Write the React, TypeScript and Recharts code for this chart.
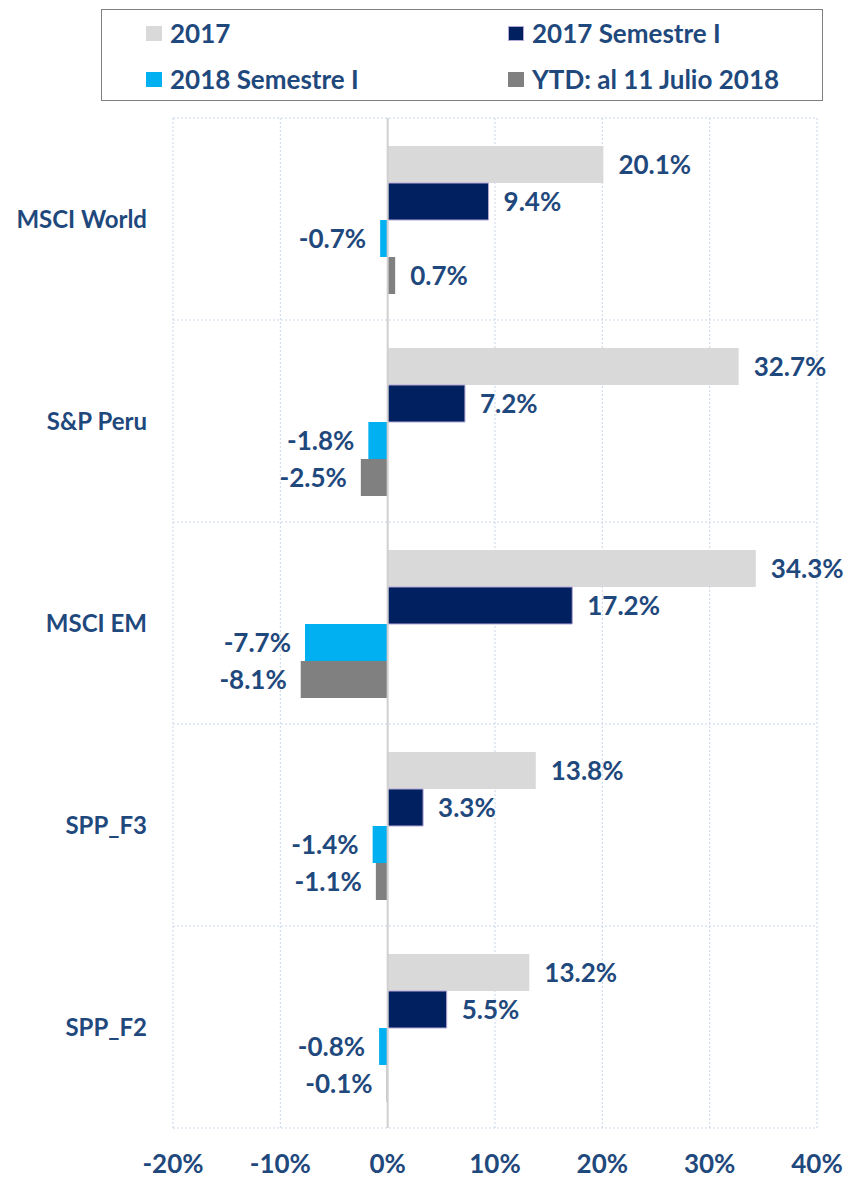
import React from 'react';
import {
  BarChart,
  Bar,
  XAxis,
  YAxis,
  CartesianGrid,
  ReferenceLine,
  LabelList,
} from 'recharts';

const categories = ['MSCI World', 'S&P Peru', 'MSCI EM', 'SPP_F3', 'SPP_F2'];
const anual2017 = [20.1, 32.7, 34.3, 13.8, 13.2];
const sem2017 = [9.4, 7.2, 17.2, 3.3, 5.5];
const sem2018 = [-0.7, -1.8, -7.7, -1.4, -0.8];
const ytd2018 = [0.7, -2.5, -8.1, -1.1, -0.1];
const xTicks = [-20, -10, 0, 10, 20, 30, 40];

const series = [
  { key: 'a2017', name: '2017', color: '#D9D9D9', stroke: 'none', values: anual2017 },
  { key: 's2017', name: '2017 Semestre I', color: '#002060', stroke: '#B4A7D6', values: sem2017 },
  { key: 's2018', name: '2018 Semestre I', color: '#00B0F0', stroke: 'none', values: sem2018 },
  { key: 'ytd', name: 'YTD: al 11 Julio 2018', color: '#808080', stroke: 'none', values: ytd2018 },
];

const data = categories.map((name, i) => {
  const row: Record<string, string | number> = { name };
  series.forEach((s) => {
    row[s.key] = s.values[i];
  });
  return row;
});

const TEXT = '#1F497D';
const FONT = 'Lato, "Open Sans", sans-serif';

const ValueLabel = (props: any) => {
  const { x, y, width, height, value } = props;
  const a = Number(x);
  const b = Number(x) + Number(width);
  const cy = Number(y) + Number(height) / 2;
  const neg = value < 0;
  const tx = neg ? Math.min(a, b) - 14 : Math.max(a, b) + 15;
  return (
    <text
      x={tx}
      y={cy}
      dy="0.36em"
      textAnchor={neg ? 'end' : 'start'}
      fill={TEXT}
      fontFamily={FONT}
      fontWeight={700}
      fontSize={26}
    >
      {`${value.toFixed(1)}%`}
    </text>
  );
};

const Legend = () => (
  <div
    style={{
      position: 'absolute',
      left: 101,
      top: 9,
      width: 722,
      height: 92,
      border: '1.5px solid #7F7F7F',
      boxSizing: 'border-box',
      display: 'grid',
      gridTemplateColumns: '362px 1fr',
      gridTemplateRows: '46px 46px',
      paddingLeft: 44,
      paddingTop: 0,
      fontFamily: FONT,
      fontWeight: 700,
      fontSize: 26,
      color: TEXT,
    }}
  >
    {series.map((s) => (
      <div key={s.key} style={{ display: 'flex', alignItems: 'center', gap: 8 }}>
        <span
          style={{
            width: 16,
            height: 15,
            background: s.color,
            boxSizing: 'border-box',
            border: s.stroke === 'none' ? 'none' : `1.5px solid ${s.stroke}`,
          }}
        />
        <span>{s.name}</span>
      </div>
    ))}
  </div>
);

export default function App() {
  return (
    <div style={{ position: 'absolute', left: 0, top: 0, width: 846, height: 1180, background: '#fff' }}>
      <Legend />
      <BarChart
        width={846}
        height={1180}
        data={data}
        layout="vertical"
        margin={{ top: 118, right: 29, bottom: 0, left: 0 }}
        barCategoryGap={28}
        barGap={0}
      >
        <CartesianGrid
          stroke="#C9D6EA"
          strokeDasharray="2 2"
          horizontalCoordinatesGenerator={({ offset }: any) =>
            categories
              .map((_, i) => offset.top + (offset.height * i) / categories.length)
              .concat(offset.top + offset.height)
          }
        />
        <XAxis
          type="number"
          domain={[-20, 40]}
          ticks={xTicks}
          tickFormatter={(v: number) => `${v}%`}
          axisLine={false}
          tickLine={false}
          tickSize={0}
          tickMargin={27}
          height={52}
          tick={{ fill: TEXT, fontFamily: FONT, fontWeight: 700, fontSize: 26 }}
        />
        <YAxis
          type="category"
          dataKey="name"
          width={173}
          axisLine={false}
          tickLine={false}
          tickSize={0}
          tickMargin={26}
          tick={{ fill: TEXT, fontFamily: FONT, fontWeight: 700, fontSize: 24 }}
        />
        <ReferenceLine x={0} stroke="#D0D0D0" strokeWidth={2} />
        {series.map((s) => (
          <Bar
            key={s.key}
            dataKey={s.key}
            name={s.name}
            fill={s.color}
            stroke={s.stroke}
            strokeWidth={1}
            isAnimationActive={false}
          >
            <LabelList dataKey={s.key} content={ValueLabel} />
          </Bar>
        ))}
      </BarChart>
    </div>
  );
}
